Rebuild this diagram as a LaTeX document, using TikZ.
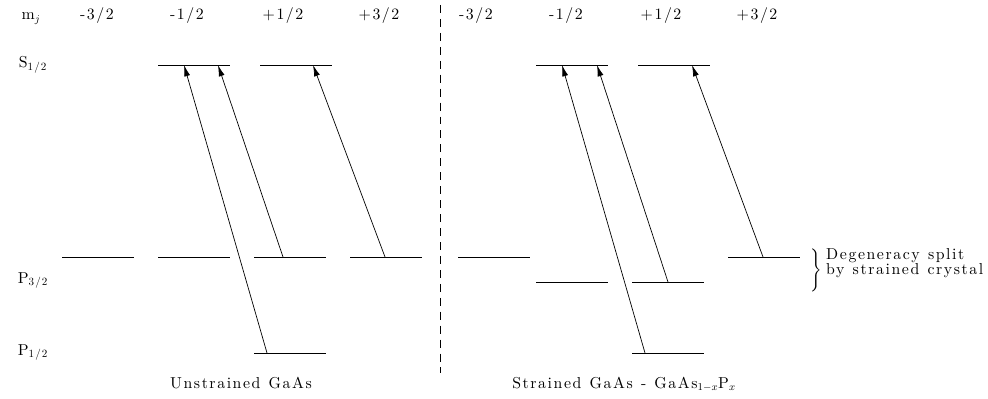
\documentclass[tikz,border=0pt]{standalone}
\usepackage{amsmath}
\usepackage{fontspec}
\setmainfont{lmroman10-regular}[Extension=.otf, LetterSpace=10, WordSpace=1.2]
\usetikzlibrary{arrows.meta}

\begin{document}
\begin{tikzpicture}[
  x=0.03cm, y=-0.03cm,
  font=\fontsize{13.5}{12}\selectfont,
  label/.style={anchor=base, inner sep=0pt},
  level/.style={line width=0.8pt},
  arrow/.style={-{Latex[length=3.4mm,width=1.8mm]}, line width=0.6pt},
  divider/.style={line width=0.6pt, dash pattern=on 6.8pt off 5.1pt}
]
  \useasboundingbox (0,0) rectangle (988,399);

  % m_j header
  \node[label] (mj) at (31,20) {m$_j$};
  \node[label] (mA) at (97,20) {-3/2};
  \node[label] (mB) at (187,20) {-1/2};
  \node[label] (mC) at (283,20) {+1/2};
  \node[label] (mD) at (379,20) {+3/2};
  \node[label] (mE) at (476,20) {-3/2};
  \node[label] (mF) at (566,20) {-1/2};
  \node[label] (mG) at (661,20) {+1/2};
  \node[label] (mH) at (757,20) {+3/2};

  % state names
  \node[label] (sHalf) at (33,68) {S$_{\text{1/2}}$};
  \node[label] (pThree) at (33,283) {P$_{\text{3/2}}$};
  \node[label] (pHalf) at (33,355) {P$_{\text{1/2}}$};

  % unstrained levels
  \draw[level] (158,65) -- (230,65);
  \draw[level] (260,65) -- (332,65);
  \draw[level] (62,257) -- (134,257);
  \draw[level] (158,257) -- (230,257);
  \draw[level] (254,257) -- (326,257);
  \draw[level] (350,257) -- (422,257);
  \draw[level] (254,353) -- (326,353);

  % strained levels
  \draw[level] (536,65) -- (608,65);
  \draw[level] (638,65) -- (710,65);
  \draw[level] (458,257) -- (530,257);
  \draw[level] (536,282) -- (608,282);
  \draw[level] (632,282) -- (704,282);
  \draw[level] (728,257) -- (800,257);
  \draw[level] (632,353) -- (704,353);

  \draw[divider] (440,5) -- (440,373);

  % transition ends
  \coordinate (uLow) at (267,353);
  \coordinate (uMid) at (283,257);
  \coordinate (uRight) at (385,257);
  \coordinate (uTopA) at (184,65);
  \coordinate (uTopB) at (218,65);
  \coordinate (uTopC) at (313,65);
  \coordinate (sLow) at (645,353);
  \coordinate (sMid) at (668,282);
  \coordinate (sRight) at (763,257);
  \coordinate (sTopA) at (562,65);
  \coordinate (sTopB) at (597,65);
  \coordinate (sTopC) at (692,65);

  \draw[arrow] (uLow) -- (uTopA);
  \draw[arrow] (uMid) -- (uTopB);
  \draw[arrow] (uRight) -- (uTopC);
  \draw[arrow] (sLow) -- (sTopA);
  \draw[arrow] (sMid) -- (sTopB);
  \draw[arrow] (sRight) -- (sTopC);

  % splitting note
  \node[inner sep=0pt, scale=0.85] (brace) at (816,270) {$\Bigg\}$};
  \node[anchor=north west, inner sep=0pt, align=left] (splitnote) at (826,248) {Degeneracy split\\by strained crystal};

  % captions
  \node[label] (unstrained) at (241,388) {Unstrained GaAs};
  \node[label] (strained) at (624,388) {Strained GaAs - GaAs$_{1-x}$P$_x$};
\end{tikzpicture}
\end{document}
